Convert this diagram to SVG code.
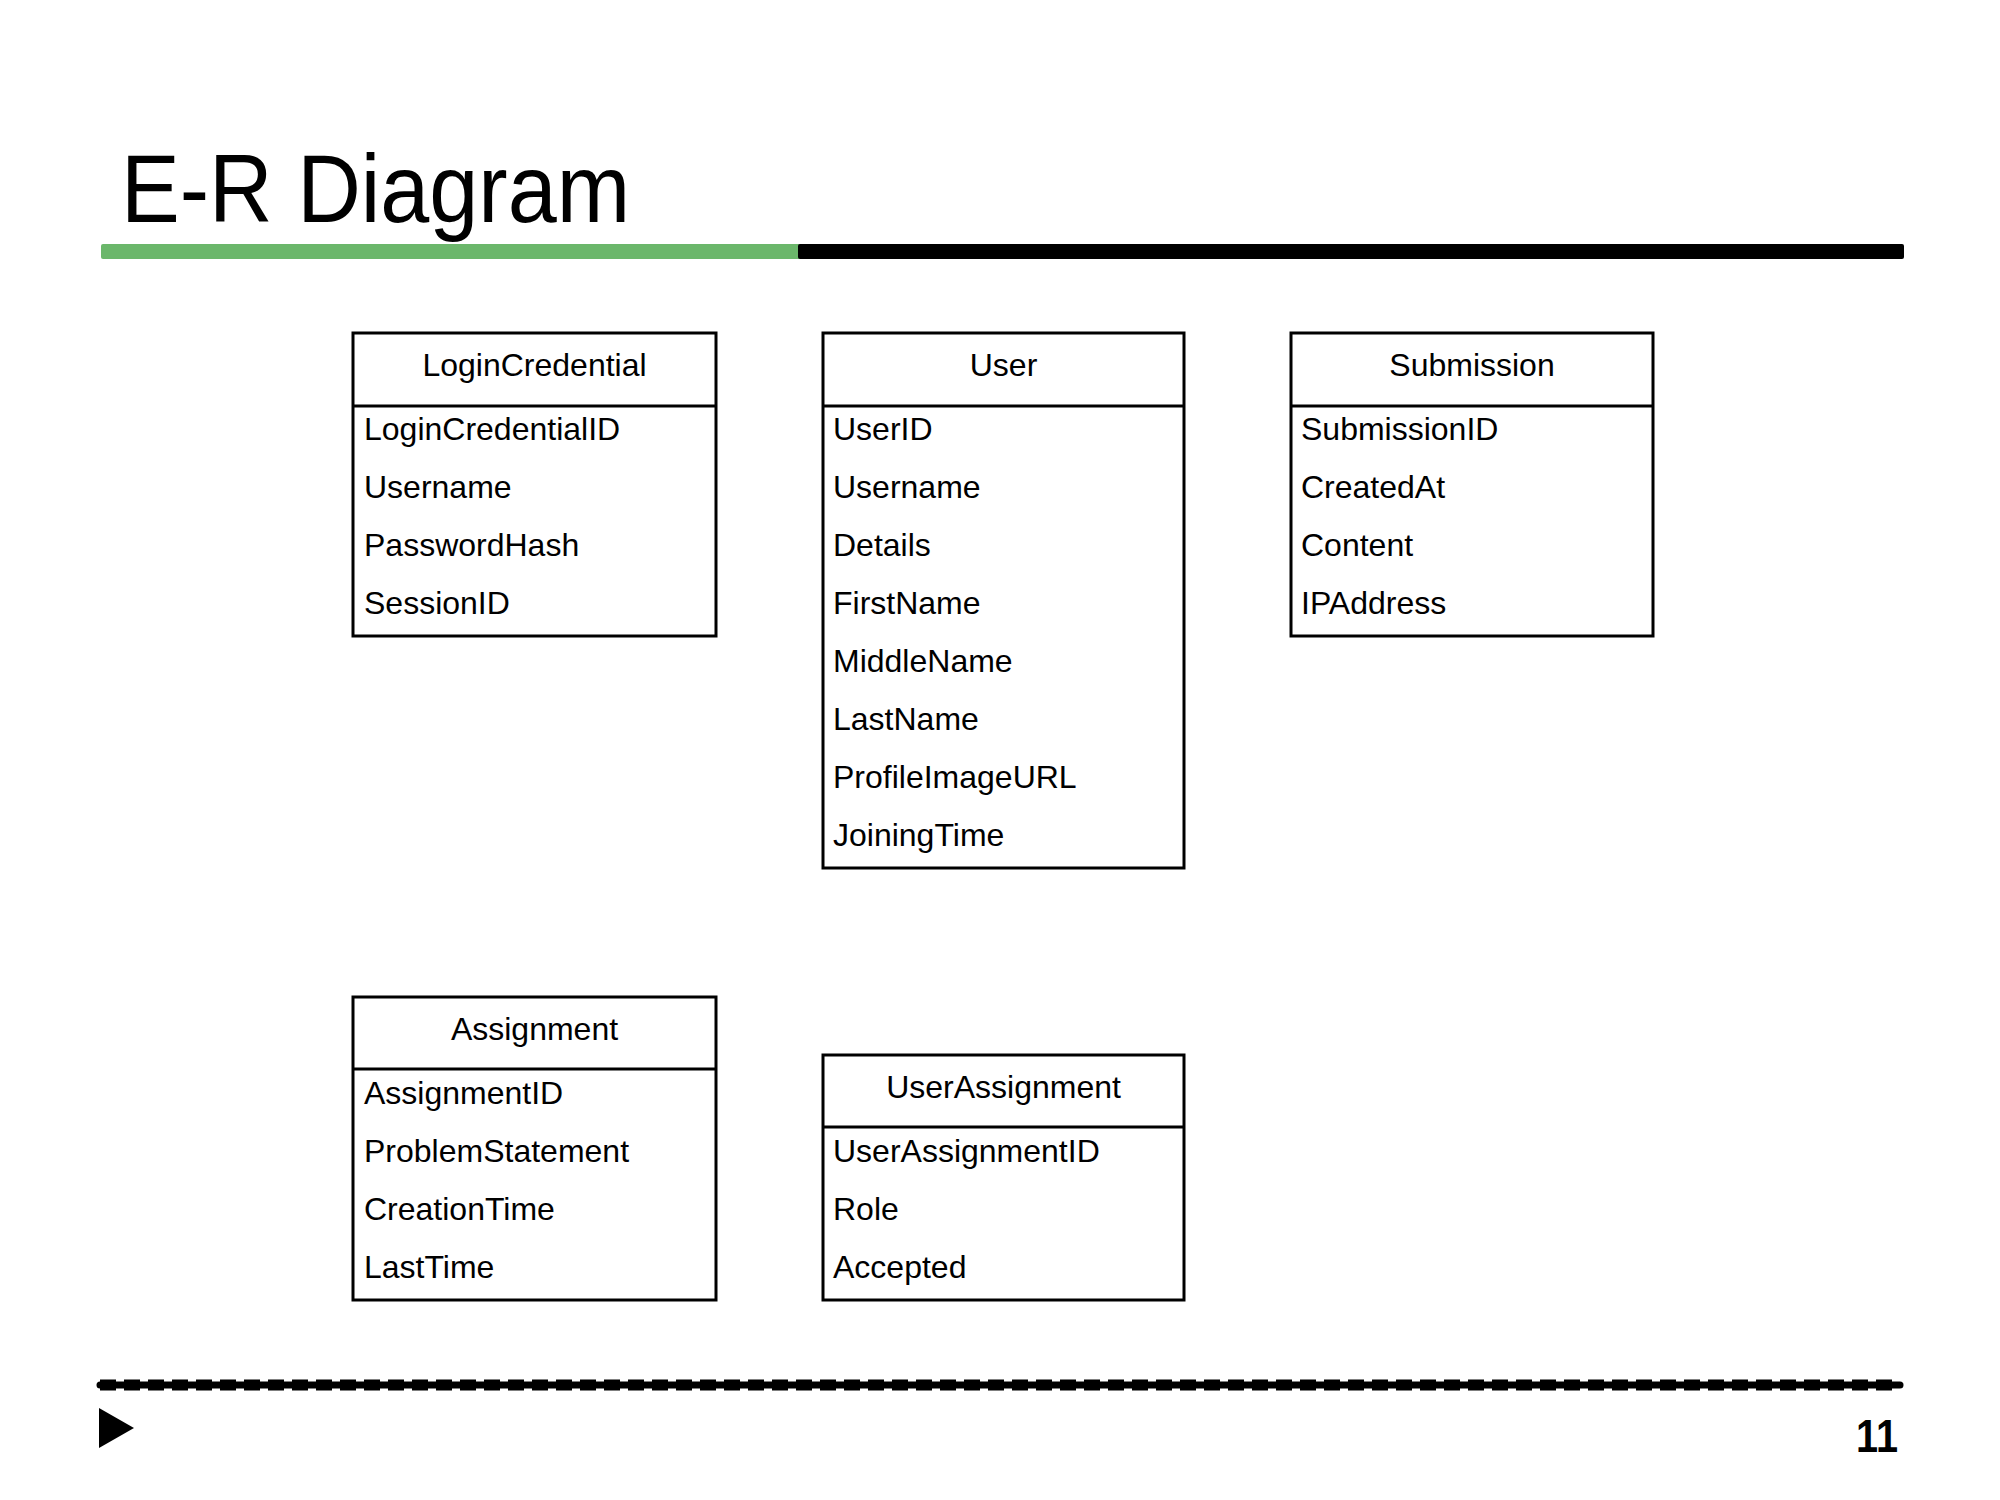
<svg xmlns="http://www.w3.org/2000/svg" width="2000" height="1500" viewBox="0 0 2000 1500">
<style>
.box{fill:#fff;stroke:#000;stroke-width:3}
.div{stroke:#000;stroke-width:3}
.hd{font-family:"Liberation Sans",Arial,sans-serif;font-size:32px;fill:#000;text-anchor:middle}
.at{font-family:"Liberation Sans",Arial,sans-serif;font-size:32px;fill:#000}
</style>
<rect width="2000" height="1500" fill="#fff"/>
<g id="header">
<text x="121" y="222" font-family="'Liberation Sans',Arial,sans-serif" font-size="96" textLength="509" lengthAdjust="spacingAndGlyphs" fill="#000">E-R Diagram</text>
<rect x="101" y="244" width="700" height="15" rx="2" fill="#6bb76b"/>
<rect x="798" y="244" width="1106" height="15" rx="2" fill="#000"/>
</g>
<g id="LoginCredential">
<rect class="box" x="353" y="333" width="363" height="303"/>
<line class="div" x1="353" y1="406" x2="716" y2="406"/>
<text class="hd" x="534.5" y="376">LoginCredential</text>
<text class="at" x="364" y="440">LoginCredentialID</text>
<text class="at" x="364" y="498">Username</text>
<text class="at" x="364" y="556">PasswordHash</text>
<text class="at" x="364" y="614">SessionID</text>
</g>
<g id="User">
<rect class="box" x="823" y="333" width="361" height="535"/>
<line class="div" x1="823" y1="406" x2="1184" y2="406"/>
<text class="hd" x="1003.5" y="376">User</text>
<text class="at" x="833" y="440">UserID</text>
<text class="at" x="833" y="498">Username</text>
<text class="at" x="833" y="556">Details</text>
<text class="at" x="833" y="614">FirstName</text>
<text class="at" x="833" y="672">MiddleName</text>
<text class="at" x="833" y="730">LastName</text>
<text class="at" x="833" y="788">ProfileImageURL</text>
<text class="at" x="833" y="846">JoiningTime</text>
</g>
<g id="Submission">
<rect class="box" x="1291" y="333" width="362" height="303"/>
<line class="div" x1="1291" y1="406" x2="1653" y2="406"/>
<text class="hd" x="1472" y="376">Submission</text>
<text class="at" x="1301" y="440">SubmissionID</text>
<text class="at" x="1301" y="498">CreatedAt</text>
<text class="at" x="1301" y="556">Content</text>
<text class="at" x="1301" y="614">IPAddress</text>
</g>
<g id="Assignment">
<rect class="box" x="353" y="997" width="363" height="303"/>
<line class="div" x1="353" y1="1069" x2="716" y2="1069"/>
<text class="hd" x="534.5" y="1040">Assignment</text>
<text class="at" x="364" y="1104">AssignmentID</text>
<text class="at" x="364" y="1162">ProblemStatement</text>
<text class="at" x="364" y="1220">CreationTime</text>
<text class="at" x="364" y="1278">LastTime</text>
</g>
<g id="UserAssignment">
<rect class="box" x="823" y="1055" width="361" height="245"/>
<line class="div" x1="823" y1="1127" x2="1184" y2="1127"/>
<text class="hd" x="1003.5" y="1098">UserAssignment</text>
<text class="at" x="833" y="1162">UserAssignmentID</text>
<text class="at" x="833" y="1220">Role</text>
<text class="at" x="833" y="1278">Accepted</text>
</g>
<g id="connectors"></g>
<g id="footer">
<line x1="100" y1="1385" x2="1900" y2="1385" stroke="#000" stroke-width="7" stroke-linecap="round"/>
<line x1="100" y1="1385" x2="1900" y2="1385" stroke="#000" stroke-width="11" stroke-dasharray="16 8"/>
<polygon points="99,1408 134,1428 99,1448" fill="#000"/>
<text x="1898" y="1452" font-family="'Liberation Sans',Arial,sans-serif" font-size="46" font-weight="bold" text-anchor="end" textLength="42" lengthAdjust="spacingAndGlyphs" fill="#000">11</text>
</g>
</svg>
